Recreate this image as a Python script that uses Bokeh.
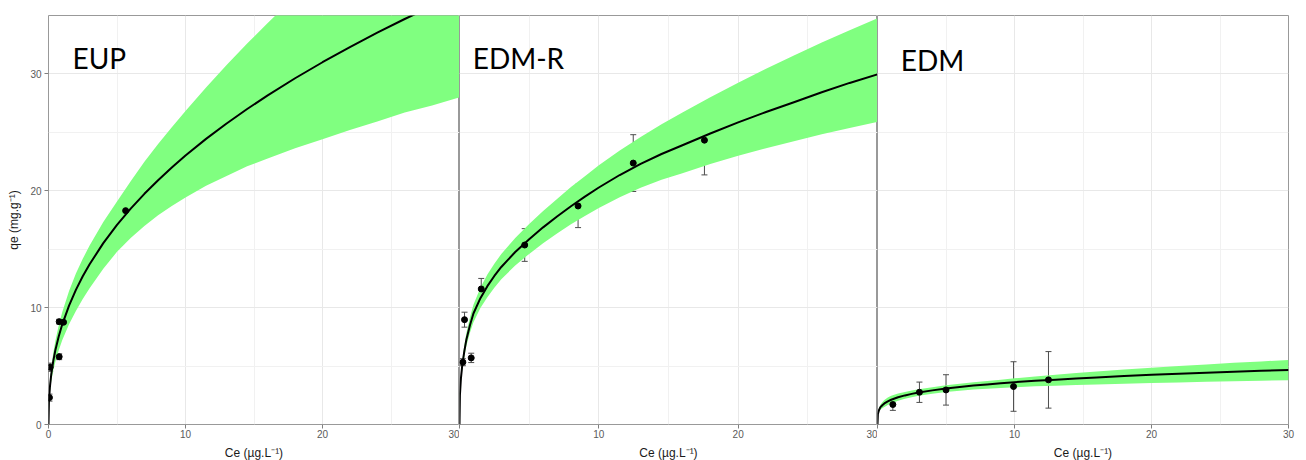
from bokeh.plotting import figure
from bokeh.layouts import row
from bokeh.models import Range1d, FixedTicker, Grid, Whisker, TeeHead, ColumnDataSource, Label
from bokeh.embed import file_html
from bokeh.resources import INLINE

# ---------------- data ----------------
ce_grid = [0, 0.03, 0.1, 0.2, 0.35, 0.5, 0.75, 1, 1.5, 2, 2.5, 3, 4, 5, 6, 7, 8, 9, 10,
           11.5, 13, 14.5, 16, 18, 20, 22, 24, 26, 28, 30]

eup_fit   = [0, 1.89, 3.18, 4.28, 5.44, 6.35, 7.55, 8.55, 10.18, 11.52, 12.68, 13.71, 15.52, 17.08,
             18.47, 19.74, 20.9, 21.99, 23.02, 24.44, 25.76, 27.0, 28.16, 29.63, 31.0, 32.3, 33.53,
             34.7, 35.8, 36.9]
eup_upper = [0, 2.09, 3.58, 4.83, 6.14, 7.15, 8.5, 9.6, 11.43, 12.92, 14.18, 15.31, 17.32, 19.08,
             20.82, 22.49, 24.0, 25.44, 26.82, 28.84, 30.76, 32.6, 34.36, 36.63, 38.7, 40.7, 42.53,
             44.3, 45.9, 47.5]
eup_lower = [0, 1.69, 2.78, 3.68, 4.64, 5.35, 6.35, 7.2, 8.58, 9.72, 10.73, 11.66, 13.32, 14.78,
             15.97, 16.99, 17.9, 18.69, 19.42, 20.44, 21.26, 22.1, 22.76, 23.63, 24.4, 25.2, 25.93,
             26.7, 27.3, 28.0]

edmr_fit   = [0, 2.5, 3.9, 5.1, 6.3, 7.3, 8.5, 9.5, 10.81, 11.84, 12.71, 13.48, 14.76, 15.85, 16.87,
              17.8, 18.68, 19.5, 20.28, 21.35, 22.3, 23.15, 23.9, 24.9, 25.85, 26.74, 27.58, 28.43,
              29.23, 29.97]
edmr_upper = [0, 2.7, 4.2, 5.5, 6.8, 7.85, 9.15, 10.25, 11.71, 12.84, 13.76, 14.58, 15.96, 17.15,
              18.27, 19.3, 20.33, 21.25, 22.18, 23.45, 24.6, 25.7, 26.7, 28.0, 29.25, 30.44, 31.58,
              32.68, 33.73, 34.77]
edmr_lower = [0, 2.3, 3.6, 4.7, 5.8, 6.75, 7.85, 8.75, 9.96, 10.89, 11.71, 12.43, 13.61, 14.6,
              15.52, 16.35, 17.13, 17.85, 18.53, 19.45, 20.25, 20.95, 21.5, 22.3, 23.0, 23.64,
              24.23, 24.83, 25.38, 25.9]

edm_fit   = [0, 0.9, 1.2, 1.46, 1.65, 1.8, 1.98, 2.12, 2.33, 2.49, 2.62, 2.74, 2.92, 3.08, 3.21,
             3.33, 3.43, 3.53, 3.62, 3.74, 3.84, 3.94, 4.03, 4.14, 4.25, 4.34, 4.43, 4.52, 4.59, 4.66]
edm_upper = [0, 1.0, 1.35, 1.66, 1.9, 2.1, 2.31, 2.45, 2.65, 2.79, 2.91, 3.02, 3.19, 3.35, 3.48,
             3.61, 3.72, 3.84, 3.95, 4.11, 4.25, 4.4, 4.53, 4.7, 4.86, 5.0, 5.14, 5.28, 5.4, 5.53]
edm_lower = [0, 0.8, 1.05, 1.26, 1.4, 1.5, 1.66, 1.8, 2.03, 2.2, 2.34, 2.46, 2.63, 2.78, 2.89,
             2.99, 3.06, 3.13, 3.19, 3.27, 3.32, 3.38, 3.43, 3.49, 3.55, 3.6, 3.65, 3.71, 3.75, 3.79]

eup_ce  = [0.07, 0.12, 0.78, 0.78, 1.1, 5.63]
eup_qe  = [2.3, 4.9, 5.8, 8.8, 8.75, 18.3]
eup_err = [0.3, 0.35, 0.25, 0.2, 0.2, 0.35]

edmr_ce  = [0.24, 0.36, 0.84, 1.56, 4.68, 8.51, 12.47, 17.58]
edmr_qe  = [5.33, 8.97, 5.7, 11.6, 15.36, 18.7, 22.37, 24.33]
edmr_err = [0.3, 0.64, 0.4, 0.9, 1.4, 1.85, 2.43, 2.97]

edm_ce  = [1.12, 3.06, 5.0, 9.93, 12.48]
edm_qe  = [1.71, 2.76, 2.96, 3.25, 3.82]
edm_err = [0.5, 0.87, 1.3, 2.12, 2.42]

x_ticks = [0, 10, 20, 30]
x_minor = [5, 15, 25]
y_ticks = [0, 10, 20, 30]
y_minor = [5, 15, 25]

panel_titles = ["EUP", "EDM-R", "EDM"]
x_label = "Ce (µg.L⁻¹)"
y_label = "qe (mg.g⁻¹)"

BAND = "#80FF80"
GRID_MAJOR = "#e8e8e8"
GRID_MINOR = "#f1f1f1"
BORDER = "#999999"
TICK_TEXT = "#5a5a5a"


def make_panel(title, fit, upper, lower, ce, qe, err, first, last, fw, tx, ty):
    p = figure(frame_width=fw, frame_height=409,
               x_range=Range1d(0, 30), y_range=Range1d(0, 35),
               output_backend="svg", toolbar_location=None,
               y_axis_location="left" if first else None,
               min_border_left=48 if first else 0,
               min_border_right=18 if last else 0,
               min_border_top=15, min_border_bottom=0,
               background_fill_color="white", border_fill_color="white")
    p.outline_line_color = BORDER
    p.outline_line_width = 1

    # grids
    p.center = [c for c in p.center if not isinstance(c, Grid)]
    for dim, t, m in ((0, x_ticks, x_minor), (1, y_ticks, y_minor)):
        g = Grid(dimension=dim, ticker=FixedTicker(ticks=t, minor_ticks=m),
                 grid_line_color=GRID_MAJOR, grid_line_width=1,
                 minor_grid_line_color=GRID_MINOR, minor_grid_line_width=1)
        p.add_layout(g, "center")

    # x axis
    ax = p.xaxis[0]
    ax.ticker = FixedTicker(ticks=x_ticks)
    ax.axis_label = x_label
    ax.axis_label_text_font = "Liberation Sans"
    ax.axis_label_text_font_size = "12px"
    ax.axis_label_text_font_style = "normal"
    ax.axis_label_text_color = "#1a1a1a"
    ax.axis_label_standoff = 5
    ax.major_label_text_font = "Liberation Sans"
    ax.major_label_text_font_size = "10px"
    ax.major_label_text_color = TICK_TEXT
    ax.major_label_standoff = 1
    ax.axis_line_color = None
    ax.major_tick_line_color = "#7f7f7f"
    ax.major_tick_out = 4
    ax.major_tick_in = 0
    ax.minor_tick_line_color = None
    if not first:
        ax.major_label_overrides = {0: ""}

    if first:
        ay = p.yaxis[0]
        ay.ticker = FixedTicker(ticks=y_ticks)
        ay.axis_label = y_label
        ay.axis_label_text_font = "Liberation Sans"
        ay.axis_label_text_font_size = "12px"
        ay.axis_label_text_font_style = "normal"
        ay.axis_label_text_color = "#1a1a1a"
        ay.axis_label_standoff = 6
        ay.major_label_text_font = "Liberation Sans"
        ay.major_label_text_font_size = "10px"
        ay.major_label_text_color = TICK_TEXT
        ay.major_label_standoff = 3
        ay.axis_line_color = None
        ay.major_tick_line_color = "#7f7f7f"
        ay.major_tick_out = 4
        ay.major_tick_in = 0
        ay.minor_tick_line_color = None

    # band + fit
    p.varea(x=ce_grid, y1=lower, y2=upper, fill_color=BAND, fill_alpha=1.0)
    p.line(ce_grid, fit, line_color="black", line_width=2, line_join="round")

    # points with error bars
    src = ColumnDataSource(dict(x=ce, y=qe,
                                upper=[q + e for q, e in zip(qe, err)],
                                lower=[q - e for q, e in zip(qe, err)]))
    w = Whisker(source=src, base="x", upper="upper", lower="lower",
                line_color="#4d4d4d", line_width=1,
                upper_head=TeeHead(size=6, line_color="#4d4d4d", line_width=1),
                lower_head=TeeHead(size=6, line_color="#4d4d4d", line_width=1))
    p.add_layout(w)
    p.scatter("x", "y", source=src, size=6, color="black")

    p.add_layout(Label(x=tx, y=ty, text=title, text_font="Lato",
                       text_font_size="28px", text_color="black",
                       text_baseline="alphabetic"))
    return p


p1 = make_panel(panel_titles[0], eup_fit, eup_upper, eup_lower,
                eup_ce, eup_qe, eup_err, True, False, 411, 1.75, 31.4)
p2 = make_panel(panel_titles[1], edmr_fit, edmr_upper, edmr_lower,
                edmr_ce, edmr_qe, edmr_err, False, False, 418, 0.95, 31.4)
p3 = make_panel(panel_titles[2], edm_fit, edm_upper, edm_lower,
                edm_ce, edm_qe, edm_err, False, True, 411, 1.7, 31.2)

layout = row(p1, p2, p3)
open("out.html", "w").write(file_html(layout, INLINE))
